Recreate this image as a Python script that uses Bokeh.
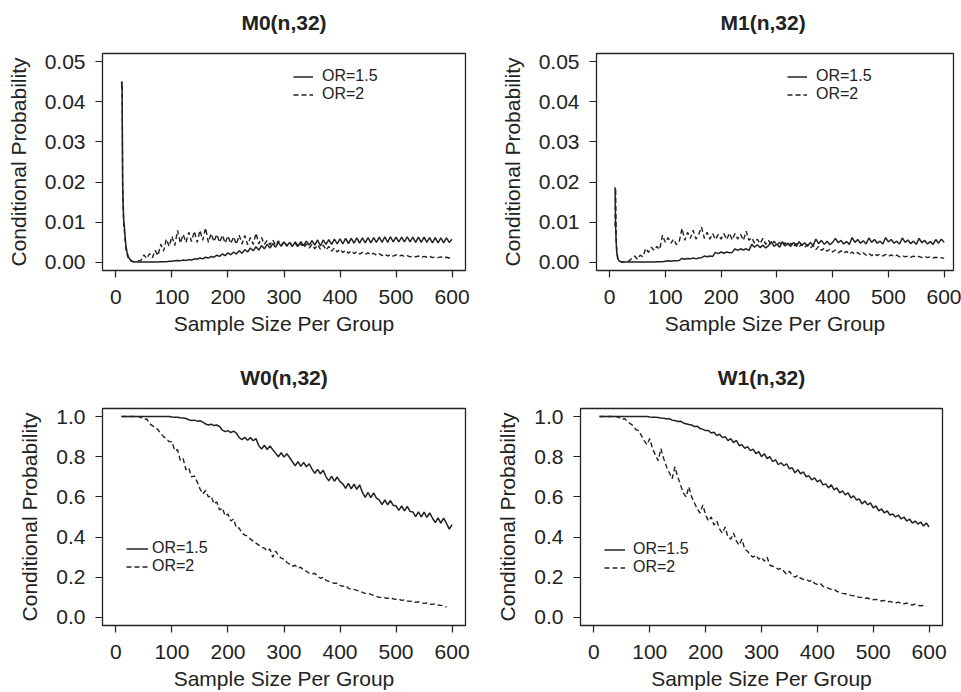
from bokeh.plotting import figure
from bokeh.models import Range1d, FixedTicker, Legend, LegendItem, NumeralTickFormatter, Title
from bokeh.layouts import column, row
from bokeh.embed import file_html
from bokeh.resources import INLINE

FONT = "Liberation Sans"
INK = "#222222"

# ---------------- data ----------------
x_ticks = [0, 100, 200, 300, 400, 500, 600]
m_y_ticks = [0.00, 0.01, 0.02, 0.03, 0.04, 0.05]
w_y_ticks = [0.0, 0.2, 0.4, 0.6, 0.8, 1.0]
legend_labels = ["OR=1.5", "OR=2"]
x_label = "Sample Size Per Group"
y_label = "Conditional Probability"

# sample sizes (M panels: dense start, then every 5)
m_n_early = [10, 11, 12, 13, 14, 15, 16, 18, 20, 22, 25, 30, 35]
m_n = m_n_early + list(range(40, 601, 5))

m0_or15 = [0.045, 0.043, 0.019, 0.014, 0.010, 0.009, 0.007, 0.004, 0.0025, 0.0015, 0.0007, 0.0002, 0.0001,
           0.0001, 0.0001, 0.0001, 0.0001, 0.0001, 0.0001, 0.0001, 0.0001, 0.0002, 0.0002, 0.0002, 0.0003,
           0.0003, 0.0004, 0.0005, 0.0004, 0.0006, 0.0005, 0.0007, 0.0006, 0.0009, 0.0008,
           0.0011, 0.0009, 0.0013, 0.0011, 0.0015, 0.0013, 0.0018, 0.0015, 0.0021, 0.0017,
           0.0024, 0.0019, 0.0026, 0.0021, 0.0029, 0.0023, 0.0032, 0.0026, 0.0036, 0.0029,
           0.0039, 0.0031, 0.0042, 0.0034, 0.0045, 0.0036, 0.0047, 0.0038, 0.0050, 0.0040,
           0.0051, 0.0041, 0.0050, 0.0040, 0.0051, 0.0041, 0.0052, 0.0042, 0.0053, 0.0043,
           0.0054, 0.0043, 0.0056, 0.0041, 0.0056, 0.0045, 0.0057, 0.0045, 0.0058, 0.0046,
           0.0059, 0.0046, 0.0060, 0.0047, 0.0060, 0.0048, 0.0061, 0.0048, 0.0061, 0.0049,
           0.0062, 0.0049, 0.0062, 0.0050, 0.0063, 0.0050, 0.0064, 0.0050, 0.0064, 0.0051,
           0.0063, 0.0051, 0.0063, 0.0051, 0.0064, 0.0051, 0.0063, 0.0050, 0.0063, 0.0050,
           0.0063, 0.0050, 0.0062, 0.0049, 0.0062, 0.0049, 0.0061, 0.0049, 0.0061, 0.0050,
           0.0058]
m0_or2 = [0.044, 0.045, 0.020, 0.013, 0.009, 0.008, 0.006, 0.003, 0.002, 0.001, 0.0005, 0.0002, 0.0003,
          0.0004, 0.0006, 0.0019, 0.0010, 0.0022, 0.0012, 0.0030, 0.0017, 0.0045, 0.0028, 0.0058, 0.0040,
          0.0065, 0.0042, 0.0080, 0.0048, 0.0070, 0.0050, 0.0075, 0.0052, 0.0078, 0.0050,
          0.0080, 0.0055, 0.0086, 0.0050, 0.0072, 0.0052, 0.0070, 0.0050, 0.0068, 0.0048,
          0.0066, 0.0047, 0.0064, 0.0045, 0.0068, 0.0046, 0.0067, 0.0044, 0.0062, 0.0045,
          0.0073, 0.0046, 0.0062, 0.0045, 0.0055, 0.0044, 0.0056, 0.0043, 0.0054, 0.0042,
          0.0052, 0.0041, 0.0050, 0.0040, 0.0048, 0.0038, 0.0047, 0.0037, 0.0046, 0.0036,
          0.0045, 0.0034, 0.0044, 0.0033, 0.0043, 0.0031, 0.0040, 0.0028, 0.0036, 0.0026,
          0.0033, 0.0025, 0.0031, 0.0023, 0.0029, 0.0022, 0.0027, 0.0021, 0.0025, 0.0020,
          0.0024, 0.0019, 0.0023, 0.0018, 0.0022, 0.0017, 0.0021, 0.0016, 0.0020, 0.0016,
          0.0019, 0.0015, 0.0018, 0.0015, 0.0017, 0.0014, 0.0016, 0.0014, 0.0016, 0.0013,
          0.0015, 0.0013, 0.0015, 0.0012, 0.0014, 0.0012, 0.0014, 0.0012, 0.0013, 0.0011,
          0.0012]

m1_or15 = [0.0187, 0.009, 0.005, 0.0025, 0.0015, 0.001, 0.0006, 0.0003, 0.0002, 0.0001, 0.0001, 0.0001, 0.0001,
           0.0001, 0.0001, 0.0001, 0.0001, 0.0001, 0.0001, 0.0001, 0.0001, 0.0001, 0.0002, 0.0002, 0.0002,
           0.0003, 0.0004, 0.0003, 0.0004, 0.0004, 0.0005, 0.0010, 0.0008, 0.0010, 0.0009,
           0.0011, 0.0009, 0.0011, 0.0012, 0.0016, 0.0014, 0.0016, 0.0015, 0.0025, 0.0022,
           0.0026, 0.0023, 0.0026, 0.0024, 0.0025, 0.0034, 0.0030, 0.0034, 0.0031, 0.0034,
           0.0030, 0.0045, 0.0038, 0.0044, 0.0037, 0.0043, 0.0036, 0.0042, 0.0052, 0.0040,
           0.0046, 0.0038, 0.0052, 0.0041, 0.0048, 0.0040, 0.0050, 0.0040, 0.0052, 0.0042,
           0.0049, 0.0040, 0.0050, 0.0042, 0.0058, 0.0047, 0.0055, 0.0045, 0.0053, 0.0044,
           0.0050, 0.0060, 0.0049, 0.0055, 0.0046, 0.0052, 0.0045, 0.0062, 0.0050, 0.0057,
           0.0048, 0.0054, 0.0046, 0.0061, 0.0050, 0.0057, 0.0048, 0.0053, 0.0046, 0.0062,
           0.0051, 0.0057, 0.0048, 0.0053, 0.0046, 0.0061, 0.0050, 0.0056, 0.0047, 0.0053,
           0.0045, 0.0060, 0.0049, 0.0055, 0.0046, 0.0052, 0.0045, 0.0057, 0.0048, 0.0058,
           0.0050]
m1_or2 = [0.009, 0.0185, 0.006, 0.003, 0.002, 0.0012, 0.0008, 0.0004, 0.0002, 0.0001, 0.0001, 0.0002, 0.0004,
          0.0010, 0.0016, 0.0008, 0.0018, 0.0014, 0.0035, 0.0025, 0.0038, 0.0030, 0.0040, 0.0032, 0.0068,
          0.0050, 0.0062, 0.0048, 0.0058, 0.0044, 0.0052, 0.0085, 0.0055, 0.0075, 0.0060,
          0.0080, 0.0058, 0.0070, 0.0088, 0.0060, 0.0075, 0.0058, 0.0072, 0.0057, 0.0070,
          0.0058, 0.0072, 0.0057, 0.0073, 0.0056, 0.0072, 0.0058, 0.0070, 0.0055, 0.0078,
          0.0055, 0.0062, 0.0048, 0.0058, 0.0047, 0.0060, 0.0045, 0.0055, 0.0044, 0.0053,
          0.0043, 0.0050, 0.0042, 0.0049, 0.0041, 0.0048, 0.0040, 0.0047, 0.0039, 0.0046,
          0.0038, 0.0044, 0.0036, 0.0042, 0.0032, 0.0040, 0.0030, 0.0036, 0.0028, 0.0033,
          0.0026, 0.0031, 0.0024, 0.0029, 0.0023, 0.0028, 0.0021, 0.0026, 0.0020, 0.0025,
          0.0019, 0.0024, 0.0018, 0.0023, 0.0017, 0.0022, 0.0017, 0.0021, 0.0016, 0.0020,
          0.0015, 0.0019, 0.0015, 0.0018, 0.0014, 0.0017, 0.0014, 0.0016, 0.0013, 0.0016,
          0.0013, 0.0015, 0.0012, 0.0015, 0.0012, 0.0014, 0.0011, 0.0013, 0.0011, 0.0012,
          0.0010]

# W panels: every 5 from 10
w_n = list(range(10, 601, 5))
w0_n2 = list(range(10, 591, 5))
w1_n2 = list(range(10, 596, 5))

w0_or15 = [1.0, 1.0, 1.0, 1.0, 1.0, 1.0, 1.0, 1.0, 1.0, 1.0,
           1.0, 1.0, 1.0, 1.0, 1.0, 1.0, 1.0, 1.0,
           0.998, 0.997, 0.996, 0.994, 0.993, 0.990, 0.984, 0.980, 0.982, 0.977,
           0.979, 0.972, 0.963, 0.958, 0.962, 0.955, 0.958, 0.950, 0.932, 0.925,
           0.930, 0.920, 0.927, 0.918, 0.895, 0.885, 0.897, 0.882, 0.895, 0.880,
           0.890, 0.855, 0.838, 0.857, 0.836, 0.853, 0.835, 0.818, 0.800, 0.820,
           0.798, 0.815, 0.796, 0.775, 0.755, 0.776, 0.752, 0.772, 0.750, 0.765,
           0.738, 0.718, 0.737, 0.715, 0.733, 0.700, 0.680, 0.702, 0.678, 0.699,
           0.676, 0.665, 0.643, 0.667, 0.640, 0.664, 0.638, 0.660, 0.622, 0.598,
           0.622, 0.596, 0.620, 0.594, 0.585, 0.562, 0.585, 0.560, 0.582, 0.558,
           0.555, 0.533, 0.555, 0.530, 0.553, 0.528, 0.525, 0.502, 0.526, 0.500,
           0.524, 0.498, 0.520, 0.495, 0.472, 0.496, 0.470, 0.494, 0.468, 0.440,
           0.462]
w0_or2 = [1.0, 1.0, 1.0, 1.0, 1.0, 1.0, 1.0,
          0.995, 0.985, 0.988, 0.965, 0.955, 0.945, 0.935, 0.915, 0.900, 0.890, 0.875,
          0.875, 0.830, 0.835, 0.780, 0.790, 0.735, 0.745, 0.700, 0.705, 0.675,
          0.640, 0.615, 0.632, 0.600, 0.605, 0.565, 0.575, 0.535, 0.545, 0.505,
          0.515, 0.480, 0.490, 0.445, 0.445, 0.420, 0.410, 0.405, 0.390, 0.380,
          0.370, 0.360, 0.350, 0.345, 0.330, 0.340, 0.300, 0.330, 0.310, 0.295,
          0.290, 0.275, 0.265, 0.255, 0.260, 0.245, 0.250, 0.235, 0.230, 0.220,
          0.215, 0.220, 0.205, 0.195, 0.200, 0.185, 0.180, 0.175, 0.170, 0.170,
          0.160, 0.155, 0.160, 0.145, 0.140, 0.140, 0.135, 0.130, 0.125, 0.120,
          0.120, 0.115, 0.110, 0.105, 0.100, 0.100, 0.098, 0.095, 0.100, 0.092,
          0.090, 0.092, 0.085, 0.088, 0.082, 0.080, 0.082, 0.075, 0.078, 0.072,
          0.070, 0.072, 0.066, 0.065, 0.068, 0.062, 0.060, 0.058, 0.052]

w1_or15 = [1.0, 1.0, 1.0, 1.0, 1.0, 1.0, 1.0, 1.0, 1.0, 1.0,
           1.0, 1.0, 1.0, 1.0, 1.0, 1.0, 1.0, 1.0,
           0.998, 0.997, 0.996, 0.995, 0.993, 0.992, 0.988, 0.990, 0.982, 0.980,
           0.975, 0.977, 0.968, 0.964, 0.960, 0.958, 0.950, 0.952, 0.940, 0.936,
           0.930, 0.930, 0.918, 0.922, 0.905, 0.912, 0.895, 0.900, 0.880, 0.890,
           0.870, 0.882, 0.855, 0.860, 0.842, 0.850, 0.830, 0.838, 0.815, 0.825,
           0.800, 0.815, 0.790, 0.800, 0.775, 0.785, 0.760, 0.770, 0.755, 0.765,
           0.740, 0.745, 0.720, 0.735, 0.715, 0.725, 0.700, 0.705, 0.685, 0.695,
           0.675, 0.685, 0.660, 0.665, 0.645, 0.660, 0.635, 0.645, 0.620, 0.630,
           0.610, 0.620, 0.595, 0.605, 0.585, 0.590, 0.565, 0.580, 0.560, 0.570,
           0.545, 0.555, 0.530, 0.540, 0.520, 0.530, 0.510, 0.515, 0.500, 0.510,
           0.490, 0.500, 0.480, 0.490, 0.470, 0.480, 0.465, 0.475, 0.455, 0.470,
           0.450]
w1_or2 = [1.0, 1.0, 1.0, 1.0, 1.0, 1.0, 1.0,
          0.995, 0.985, 0.990, 0.975, 0.965, 0.955, 0.935, 0.930, 0.905, 0.880, 0.860,
          0.890, 0.840, 0.810, 0.780, 0.840, 0.790, 0.750, 0.720, 0.690, 0.750,
          0.700, 0.660, 0.620, 0.600, 0.650, 0.600, 0.570, 0.540, 0.520, 0.560,
          0.510, 0.480, 0.500, 0.460, 0.480, 0.440, 0.420, 0.450, 0.400, 0.390,
          0.420, 0.380, 0.360, 0.390, 0.340, 0.330, 0.310, 0.300, 0.310, 0.290,
          0.300, 0.280, 0.300, 0.260, 0.255, 0.250, 0.240, 0.245, 0.230, 0.215,
          0.230, 0.210, 0.200, 0.210, 0.195, 0.190, 0.190, 0.180, 0.185, 0.170,
          0.165, 0.170, 0.155, 0.150, 0.145, 0.140, 0.140, 0.130, 0.125, 0.120,
          0.118, 0.115, 0.110, 0.108, 0.105, 0.100, 0.100, 0.095, 0.097, 0.090,
          0.088, 0.090, 0.085, 0.082, 0.085, 0.078, 0.080, 0.075, 0.072, 0.076,
          0.070, 0.068, 0.072, 0.064, 0.062, 0.066, 0.060, 0.058, 0.060, 0.055]

for xs, ys in [(m_n, m0_or15), (m_n, m0_or2), (m_n, m1_or15), (m_n, m1_or2),
               (w_n, w0_or15), (w0_n2, w0_or2), (w_n, w1_or15), (w1_n2, w1_or2)]:
    assert len(xs) == len(ys), (len(xs), len(ys))


def panel(title, n15, v15, n2, v2, x_lo, x_hi, y_lo, y_hi, y_ticks, y_fmt,
          bl, bt, br, bb, fw, fh, leg_xy, glyph_w, leg_standoff, title_offset=None):
    p = figure(frame_width=fw, frame_height=fh, title=None,
               min_border_left=bl, min_border_top=bt, min_border_right=br, min_border_bottom=bb,
               x_range=Range1d(x_lo, x_hi), y_range=Range1d(y_lo, y_hi),
               output_backend="svg", toolbar_location=None,
               background_fill_color="white", border_fill_color="white")
    p.grid.visible = False
    p.outline_line_color = INK
    p.outline_line_width = 1.3
    p.outline_line_alpha = 1.0

    # blank spacer between frame and title, then the title itself
    p.add_layout(Title(text=" ", text_font=FONT, text_font_size="14px", standoff=0), "above")
    t = Title(text=title, text_font=FONT, text_font_size="21px", text_font_style="bold",
              text_color=INK, standoff=4)
    if title_offset is None:
        t.align = "center"
    else:
        t.align = "left"
        t.offset = title_offset
    p.add_layout(t, "above")

    for ax in (p.xaxis[0], p.yaxis[0]):
        ax.axis_line_color = None
        ax.major_tick_in = 0
        ax.major_tick_out = 7
        ax.major_tick_line_color = INK
        ax.major_tick_line_width = 1.2
        ax.minor_tick_line_color = None
        ax.major_label_text_font = FONT
        ax.major_label_text_font_size = "21px"
        ax.major_label_text_color = INK
        ax.axis_label_text_font = FONT
        ax.axis_label_text_font_size = "21px"
        ax.axis_label_text_font_style = "normal"
        ax.axis_label_text_color = INK

    p.xaxis.ticker = FixedTicker(ticks=x_ticks)
    p.xaxis.axis_label = x_label
    p.xaxis.major_label_standoff = 12
    p.xaxis.axis_label_standoff = 5

    p.yaxis.ticker = FixedTicker(ticks=y_ticks)
    p.yaxis.formatter = NumeralTickFormatter(format=y_fmt)
    p.yaxis.axis_label = y_label
    p.yaxis.major_label_standoff = 10
    p.yaxis.axis_label_standoff = 12

    r1 = p.line(n15, v15, line_color=INK, line_width=1.5)
    r2 = p.line(n2, v2, line_color=INK, line_width=1.4, line_dash="5 3")

    leg = Legend(items=[LegendItem(label=legend_labels[0], renderers=[r1]),
                        LegendItem(label=legend_labels[1], renderers=[r2])],
                 location=leg_xy, border_line_color=None, background_fill_alpha=0,
                 padding=0, margin=0, spacing=0, glyph_width=glyph_w, glyph_height=17,
                 label_height=17, label_standoff=leg_standoff,
                 label_text_font=FONT, label_text_font_size="16px", label_text_color=INK)
    p.add_layout(leg)
    return p


p1 = panel("M0(n,32)", m_n, m0_or15, m_n, m0_or2, -24, 624, -0.002, 0.052, m_y_ticks, "0.00",
           102, 53, 15, 76, 363, 217, (191, 167), 20, 9)
p2 = panel("M1(n,32)", m_n, m1_or15, m_n, m1_or2, -23.3, 616.7, -0.002, 0.052, m_y_ticks, "0.00",
           116, 53, 8, 76, 357, 217, (191, 167), 20, 9, title_offset=124)
p3 = panel("W0(n,32)", w_n, w0_or15, w0_n2, w0_or2, -24, 624, -0.04, 1.04, w_y_ticks, "0.0",
           102, 62, 15, 67, 363, 217, (24, 50), 22, 4)
p4 = panel("W1(n,32)", w_n, w1_or15, w1_n2, w1_or2, -24, 624, -0.04, 1.04, w_y_ticks, "0.0",
           100, 62, 19, 67, 362, 217, (24, 49), 21, 8)

layout = column(row(p1, p2, spacing=0), row(p3, p4, spacing=0), spacing=0)

open("out.html", "w").write(file_html(layout, INLINE))
